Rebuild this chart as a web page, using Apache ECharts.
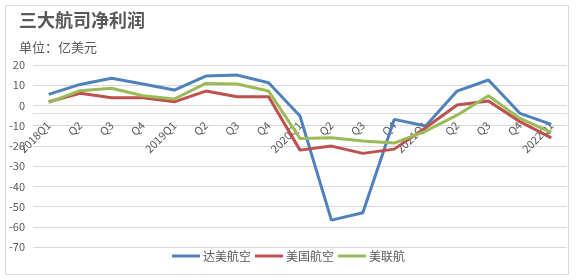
<!DOCTYPE html>
<html><head><meta charset="utf-8">
<script src="https://cdn.jsdelivr.net/npm/echarts@6/dist/echarts.min.js"></script>
<style>html,body{margin:0;padding:0;background:#fff}#c{width:577px;height:280px}</style>
</head><body><div id="c"></div>
<script>
const categories = ['2018Q1','Q2','Q3','Q4','2019Q1','Q2','Q3','Q4','2020Q1','Q2','Q3','Q4','2021Q1','Q2','Q3','Q4','2022Q1'];
const delta = [5.5,10.4,13.4,10.6,7.6,14.5,15.0,11.2,-5.2,-56.7,-53.1,-6.9,-10.2,7.1,12.6,-3.9,-9.4];
const american = [1.8,6.0,3.8,3.8,1.8,7.1,4.3,4.3,-22.1,-20.1,-23.7,-21.6,-11.0,0.2,2.2,-8.0,-16.0];
const united = [1.5,7.3,8.5,4.8,3.2,10.9,10.6,7.1,-16.3,-16.0,-17.6,-18.6,-12.7,-4.8,4.8,-6.4,-13.3];
const seriesNames = ['达美航空','美国航空','美联航'];
const yTicks = {min:-70, max:20, interval:10};

const font = '"Noto Sans CJK SC", "Microsoft YaHei", sans-serif';
const chart = echarts.init(document.getElementById('c'), null, {renderer:'canvas'});
const mk = (name, data, color) => ({
  name, type:'line', data, symbol:'none', smooth:false,
  lineStyle:{width:3, color}, itemStyle:{color}
});
chart.setOption({
  animation:false,
  textStyle:{fontFamily:font},
  graphic:[{type:'rect', shape:{x:5.5,y:5.5,width:563,height:269}, style:{fill:'none', stroke:'#d9d9d9', lineWidth:1}, z:-1}],
  title:[
    {text:'三大航司净利润', left:14, top:6, textStyle:{fontSize:18, fontWeight:'bold', color:'#595959', fontFamily:font}},
    {text:'单位：亿美元', left:14, top:36, textStyle:{fontSize:13, fontWeight:'normal', color:'#595959', fontFamily:font}}
  ],
  legend:{bottom:13, left:167, itemWidth:28, itemHeight:3, itemGap:4, icon:'rect',
    textStyle:{fontSize:12, color:'#595959', fontFamily:font, padding:[0,0,0,-2]}, data:seriesNames},
  grid:{left:33, right:10, top:65, bottom:33, containLabel:false},
  xAxis:{type:'category', data:categories, boundaryGap:true,
    axisLine:{show:true, onZero:false, lineStyle:{color:'#d9d9d9'}},
    axisTick:{show:false},
    axisLabel:{rotate:45, fontSize:11, color:'#595959', interval:0, margin:10, fontFamily:font}},
  yAxis:{type:'value', min:yTicks.min, max:yTicks.max, interval:yTicks.interval,
    axisLine:{show:false}, axisTick:{show:false},
    axisLabel:{fontSize:11, color:'#595959', margin:8, fontFamily:font},
    splitLine:{lineStyle:{color:'#d9d9d9'}}},
  series:[
    mk(seriesNames[0], delta, '#4F81BD'),
    mk(seriesNames[1], american, '#C0504D'),
    mk(seriesNames[2], united, '#9BBB59')
  ]
});
// place the category axis on the zero line of the value axis
const yZero = chart.convertToPixel({yAxisIndex:0}, 0);
const yBottom = chart.convertToPixel({yAxisIndex:0}, yTicks.min);
chart.setOption({xAxis:{offset: yZero - yBottom}});
</script></body></html>
